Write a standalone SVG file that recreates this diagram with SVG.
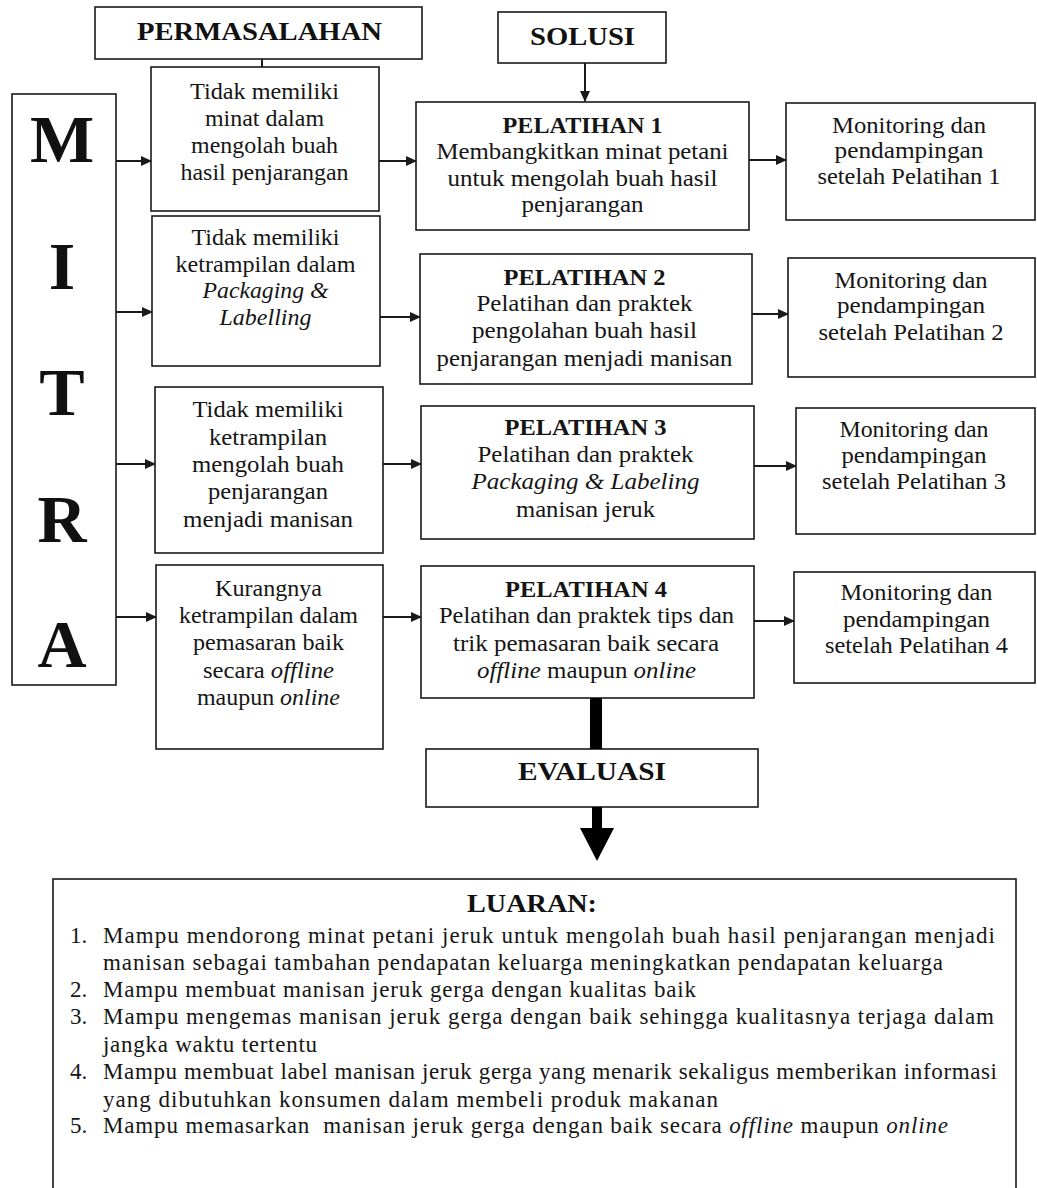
<svg xmlns="http://www.w3.org/2000/svg" width="1037" height="1188" viewBox="0 0 1037 1188">
<style>
.box{fill:#fff;stroke:#1a1a1a;stroke-width:1.6}
.t{font-family:"Liberation Serif","Times New Roman",serif;font-size:23px;fill:#151515;text-anchor:middle}
.h{font-family:"Liberation Serif","Times New Roman",serif;font-size:26px;font-weight:bold;fill:#111;text-anchor:middle}
.pb{font-weight:bold}
.m{font-family:"Liberation Serif","Times New Roman",serif;font-size:68px;font-weight:bold;fill:#111;text-anchor:middle}
.l{font-family:"Liberation Serif","Times New Roman",serif;font-size:23px;fill:#151515}
.i{font-style:italic}
.c{stroke:#1a1a1a;stroke-width:2;fill:none}
</style>
<defs>
<marker id="ar" markerUnits="userSpaceOnUse" markerWidth="11" markerHeight="10" refX="10" refY="5" orient="auto">
<path d="M0,0 L11,5 L0,10 Z" fill="#1a1a1a"/>
</marker>
</defs>
<rect width="1037" height="1188" fill="#fff"/>

<g id="permasalahan">
<rect class="box" x="95" y="7" width="327" height="52"/>
<text class="h" x="259.5" y="40" textLength="245" lengthAdjust="spacingAndGlyphs">PERMASALAHAN</text>
</g>
<g id="solusi">
<rect class="box" x="498" y="12" width="168" height="51"/>
<text class="h" x="582.5" y="45" textLength="105" lengthAdjust="spacingAndGlyphs">SOLUSI</text>
</g>
<g id="mitra">
<rect class="box" x="12" y="94" width="104" height="591"/>
<text class="m" x="62" y="162">M</text>
<text class="m" x="62" y="289">I</text>
<text class="m" x="62" y="415">T</text>
<text class="m" x="62" y="542">R</text>
<text class="m" x="62" y="667">A</text>
</g>

<g id="masalah1">
<rect class="box" x="151" y="67" width="228" height="144"/>
<text class="t" x="264.5" y="99" textLength="149" lengthAdjust="spacingAndGlyphs">Tidak memiliki</text>
<text class="t" x="264.5" y="126" textLength="119" lengthAdjust="spacingAndGlyphs">minat dalam</text>
<text class="t" x="264.5" y="153" textLength="147" lengthAdjust="spacingAndGlyphs">mengolah buah</text>
<text class="t" x="264.5" y="180" textLength="168" lengthAdjust="spacingAndGlyphs">hasil penjarangan</text>
</g>
<g id="masalah2">
<rect class="box" x="152" y="216" width="228" height="150"/>
<text class="t" x="265.5" y="245" textLength="148" lengthAdjust="spacingAndGlyphs">Tidak memiliki</text>
<text class="t" x="265.5" y="272" textLength="180" lengthAdjust="spacingAndGlyphs">ketrampilan dalam</text>
<text class="t i" x="265.5" y="298" textLength="126" lengthAdjust="spacingAndGlyphs">Packaging &amp;</text>
<text class="t i" x="265.5" y="325" textLength="92" lengthAdjust="spacingAndGlyphs">Labelling</text>
</g>
<g id="masalah3">
<rect class="box" x="155" y="387" width="228" height="166"/>
<text class="t" x="268" y="417" textLength="151" lengthAdjust="spacingAndGlyphs">Tidak memiliki</text>
<text class="t" x="268" y="445" textLength="118" lengthAdjust="spacingAndGlyphs">ketrampilan</text>
<text class="t" x="268" y="472" textLength="152" lengthAdjust="spacingAndGlyphs">mengolah buah</text>
<text class="t" x="268" y="499" textLength="120" lengthAdjust="spacingAndGlyphs">penjarangan</text>
<text class="t" x="268" y="527" textLength="170" lengthAdjust="spacingAndGlyphs">menjadi manisan</text>
</g>
<g id="masalah4">
<rect class="box" x="156" y="565" width="227" height="184"/>
<text class="t" x="268.5" y="596" textLength="107" lengthAdjust="spacingAndGlyphs">Kurangnya</text>
<text class="t" x="268.5" y="623" textLength="179" lengthAdjust="spacingAndGlyphs">ketrampilan dalam</text>
<text class="t" x="268.5" y="650" textLength="151" lengthAdjust="spacingAndGlyphs">pemasaran baik</text>
<text class="t" x="268.5" y="678" textLength="131" lengthAdjust="spacingAndGlyphs">secara <tspan class="i">offline</tspan></text>
<text class="t" x="268.5" y="705" textLength="143" lengthAdjust="spacingAndGlyphs">maupun <tspan class="i">online</tspan></text>
</g>

<g id="pelatihan1">
<rect class="box" x="416" y="102" width="333" height="128"/>
<text class="t pb" x="582.5" y="133" textLength="160" lengthAdjust="spacingAndGlyphs">PELATIHAN 1</text>
<text class="t" x="582.5" y="159" textLength="292" lengthAdjust="spacingAndGlyphs">Membangkitkan minat petani</text>
<text class="t" x="582.5" y="186" textLength="270" lengthAdjust="spacingAndGlyphs">untuk mengolah buah hasil</text>
<text class="t" x="582.5" y="212" textLength="122" lengthAdjust="spacingAndGlyphs">penjarangan</text>
</g>
<g id="pelatihan2">
<rect class="box" x="420" y="254" width="332" height="130"/>
<text class="t pb" x="584.5" y="285" textLength="162" lengthAdjust="spacingAndGlyphs">PELATIHAN 2</text>
<text class="t" x="584.5" y="311" textLength="216" lengthAdjust="spacingAndGlyphs">Pelatihan dan praktek</text>
<text class="t" x="584.5" y="338" textLength="225" lengthAdjust="spacingAndGlyphs">pengolahan buah hasil</text>
<text class="t" x="584.5" y="366" textLength="296" lengthAdjust="spacingAndGlyphs">penjarangan menjadi manisan</text>
</g>
<g id="pelatihan3">
<rect class="box" x="421" y="406" width="333" height="133"/>
<text class="t pb" x="585.5" y="435" textLength="162" lengthAdjust="spacingAndGlyphs">PELATIHAN 3</text>
<text class="t" x="585.5" y="462" textLength="216" lengthAdjust="spacingAndGlyphs">Pelatihan dan praktek</text>
<text class="t i" x="585.5" y="489" textLength="228" lengthAdjust="spacingAndGlyphs">Packaging &amp; Labeling</text>
<text class="t" x="585.5" y="517" textLength="139" lengthAdjust="spacingAndGlyphs">manisan jeruk</text>
</g>
<g id="pelatihan4">
<rect class="box" x="421" y="566" width="333" height="132"/>
<text class="t pb" x="586" y="597" textLength="162" lengthAdjust="spacingAndGlyphs">PELATIHAN 4</text>
<text class="t" x="586.5" y="623" textLength="295" lengthAdjust="spacingAndGlyphs">Pelatihan dan praktek tips dan</text>
<text class="t" x="586" y="651" textLength="266" lengthAdjust="spacingAndGlyphs">trik pemasaran baik secara</text>
<text class="t" x="586.5" y="678" textLength="219" lengthAdjust="spacingAndGlyphs"><tspan class="i">offline</tspan> maupun <tspan class="i">online</tspan></text>
</g>

<g id="monitoring1">
<rect class="box" x="786" y="103" width="249" height="117"/>
<text class="t" x="909" y="133" textLength="154" lengthAdjust="spacingAndGlyphs">Monitoring dan</text>
<text class="t" x="909" y="158" textLength="149" lengthAdjust="spacingAndGlyphs">pendampingan</text>
<text class="t" x="909" y="184" textLength="183" lengthAdjust="spacingAndGlyphs">setelah Pelatihan 1</text>
</g>
<g id="monitoring2">
<rect class="box" x="788" y="258" width="247" height="119"/>
<text class="t" x="911" y="288" textLength="153" lengthAdjust="spacingAndGlyphs">Monitoring dan</text>
<text class="t" x="911" y="313" textLength="148" lengthAdjust="spacingAndGlyphs">pendampingan</text>
<text class="t" x="911" y="340" textLength="185" lengthAdjust="spacingAndGlyphs">setelah Pelatihan 2</text>
</g>
<g id="monitoring3">
<rect class="box" x="796" y="408" width="239" height="126"/>
<text class="t" x="914" y="437" textLength="149" lengthAdjust="spacingAndGlyphs">Monitoring dan</text>
<text class="t" x="914" y="463" textLength="145" lengthAdjust="spacingAndGlyphs">pendampingan</text>
<text class="t" x="914" y="489" textLength="184" lengthAdjust="spacingAndGlyphs">setelah Pelatihan 3</text>
</g>
<g id="monitoring4">
<rect class="box" x="794" y="572" width="241" height="111"/>
<text class="t" x="916.5" y="600" textLength="152" lengthAdjust="spacingAndGlyphs">Monitoring dan</text>
<text class="t" x="916.5" y="627" textLength="147" lengthAdjust="spacingAndGlyphs">pendampingan</text>
<text class="t" x="916.5" y="653" textLength="183" lengthAdjust="spacingAndGlyphs">setelah Pelatihan 4</text>
</g>

<g id="evaluasi">
<rect class="box" x="426" y="749" width="332" height="58"/>
<text class="h" x="592" y="780" textLength="148" lengthAdjust="spacingAndGlyphs">EVALUASI</text>
</g>

<g id="luaran">
<rect class="box" x="53" y="879" width="963" height="330"/>
<text class="h" x="532" y="912" textLength="130" lengthAdjust="spacingAndGlyphs">LUARAN:</text>
<text class="l" x="70" y="943">1.</text>
<text class="l" x="103" y="943" textLength="892" lengthAdjust="spacing">Mampu mendorong minat petani jeruk untuk mengolah buah hasil penjarangan menjadi</text>
<text class="l" x="103" y="970" textLength="840" lengthAdjust="spacing">manisan sebagai tambahan pendapatan keluarga meningkatkan pendapatan keluarga</text>
<text class="l" x="70" y="997">2.</text>
<text class="l" x="103" y="997" textLength="593" lengthAdjust="spacing">Mampu membuat manisan jeruk gerga dengan kualitas baik</text>
<text class="l" x="70" y="1024">3.</text>
<text class="l" x="103" y="1024" textLength="891" lengthAdjust="spacing">Mampu mengemas manisan jeruk gerga dengan baik sehingga kualitasnya terjaga dalam</text>
<text class="l" x="103" y="1052" textLength="214" lengthAdjust="spacing">jangka waktu tertentu</text>
<text class="l" x="70" y="1079">4.</text>
<text class="l" x="103" y="1079" textLength="894" lengthAdjust="spacing">Mampu membuat label manisan jeruk gerga yang menarik sekaligus memberikan informasi</text>
<text class="l" x="103" y="1107" textLength="615" lengthAdjust="spacing">yang dibutuhkan konsumen dalam membeli produk makanan</text>
<text class="l" x="70" y="1133">5.</text>
<text class="l" x="103" y="1133" textLength="845" lengthAdjust="spacing" xml:space="preserve">Mampu memasarkan  manisan jeruk gerga dengan baik secara <tspan class="i">offline</tspan> maupun <tspan class="i">online</tspan></text>
</g>

<g id="connectors">
<line class="c" x1="262" y1="59" x2="262" y2="67" stroke-width="1.5"/>
<line class="c" x1="585" y1="63" x2="585" y2="101" stroke-width="1.5" marker-end="url(#ar)"/>
<line class="c" x1="116" y1="161" x2="151" y2="161" marker-end="url(#ar)"/>
<line class="c" x1="116" y1="312" x2="152" y2="312" marker-end="url(#ar)"/>
<line class="c" x1="116" y1="464" x2="155" y2="464" marker-end="url(#ar)"/>
<line class="c" x1="116" y1="617" x2="156" y2="617" marker-end="url(#ar)"/>
<line class="c" x1="379" y1="161" x2="416" y2="161" marker-end="url(#ar)"/>
<line class="c" x1="380" y1="317" x2="420" y2="317" marker-end="url(#ar)"/>
<line class="c" x1="383" y1="464" x2="421" y2="464" marker-end="url(#ar)"/>
<line class="c" x1="383" y1="617" x2="421" y2="617" marker-end="url(#ar)"/>
<line class="c" x1="749" y1="160" x2="786" y2="160" marker-end="url(#ar)"/>
<line class="c" x1="752" y1="314" x2="788" y2="314" marker-end="url(#ar)"/>
<line class="c" x1="754" y1="466" x2="796" y2="466" marker-end="url(#ar)"/>
<line class="c" x1="754" y1="621" x2="794" y2="621" marker-end="url(#ar)"/>
<rect x="590" y="698" width="12" height="51" fill="#000"/>
<rect x="592" y="807" width="10" height="23" fill="#000"/>
<polygon points="580,828 614,828 597,861" fill="#000"/>
</g>
</svg>
